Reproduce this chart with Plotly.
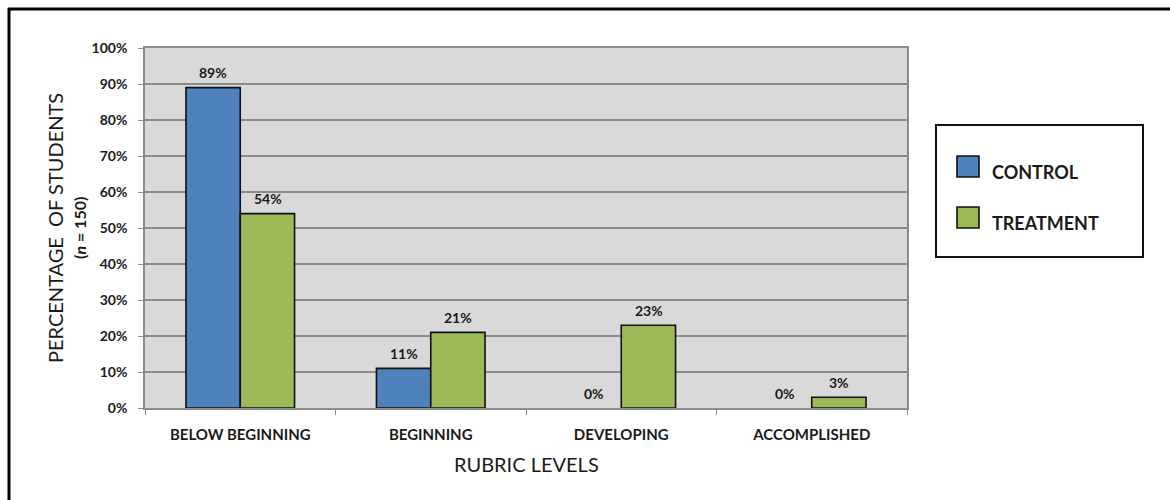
import plotly.graph_objects as go

categories = ["BELOW BEGINNING", "BEGINNING", "DEVELOPING", "ACCOMPLISHED"]
series_names = ["CONTROL", "TREATMENT"]
control = [89, 11, 0, 0]
treatment = [54, 21, 23, 3]
y_ticks = [0, 10, 20, 30, 40, 50, 60, 70, 80, 90, 100]
y_tick_labels = [f"{v}%" for v in y_ticks]

colors = ["#4f81bd", "#9bbb59"]
FONT = "Lato"

# pixel geometry helpers
W, H = 1170, 500
ML, MR, MT, MB = 145, 263, 48, 92
PW, PH = W - ML - MR, H - MT - MB


def px_x(p):
    return (p - ML) / PW


def px_y(p):
    return (H - MB - p) / PH


fig = go.Figure()
for name, vals, col in zip(series_names, [control, treatment], colors):
    fig.add_trace(go.Bar(
        x=categories, y=vals, name=name,
        marker=dict(color=col, line=dict(color="#111111",
                                         width=[1.6 if v > 0 else 0 for v in vals])),
        showlegend=False,
    ))

annotations = []
for k, vals in enumerate([control, treatment]):
    shift = -27.25 if k == 0 else 27.25
    for c, v in zip(categories, vals):
        annotations.append(dict(
            x=c, y=v, xref="x", yref="y", text=f"<b>{v}%</b>", showarrow=False,
            xshift=shift, yshift=15, xanchor="center", yanchor="middle",
            font=dict(family=FONT, size=14, color="#1a1a1a"),
        ))

# axis titles
annotations.append(dict(
    x=px_x(55), y=0.5, xref="paper", yref="paper", textangle=-90,
    text="PERCENTAGE  OF STUDENTS", showarrow=False,
    xanchor="center", yanchor="middle",
    font=dict(family=FONT, size=20, color="#1a1a1a"),
))
annotations.append(dict(
    x=px_x(79), y=0.5, xref="paper", yref="paper", textangle=-90,
    text="<b>(<i>n</i> = 150)</b>", showarrow=False,
    xanchor="center", yanchor="middle",
    font=dict(family=FONT, size=16, color="#1a1a1a"),
))
annotations.append(dict(
    x=0.5, y=px_y(464), xref="paper", yref="paper",
    text="RUBRIC LEVELS", showarrow=False,
    xanchor="center", yanchor="middle",
    font=dict(family=FONT, size=20, color="#1a1a1a"),
))

# legend
shapes = []
shapes.append(dict(type="rect", xref="paper", yref="paper",
                   x0=px_x(936), x1=px_x(1143), y0=px_y(257), y1=px_y(125),
                   line=dict(color="#111111", width=2), fillcolor="white"))
leg_rows = [(156, 177, 172), (207, 228, 223)]
for (t, b, tc), name, col in zip(leg_rows, series_names, colors):
    shapes.append(dict(type="rect", xref="paper", yref="paper",
                       x0=px_x(957), x1=px_x(979), y0=px_y(b), y1=px_y(t),
                       line=dict(color="#111111", width=1.6), fillcolor=col))
    annotations.append(dict(
        x=px_x(990), y=px_y(tc), xref="paper", yref="paper",
        text=f"<b>{name}</b>", showarrow=False, xanchor="left", yanchor="middle",
        font=dict(family=FONT, size=18, color="#1a1a1a"),
    ))

# outer frame (top and left edges visible)
shapes.append(dict(type="line", xref="paper", yref="paper",
                   x0=px_x(8), x1=px_x(1200), y0=px_y(9), y1=px_y(9),
                   line=dict(color="black", width=3)))
shapes.append(dict(type="line", xref="paper", yref="paper",
                   x0=px_x(9), x1=px_x(9), y0=px_y(8), y1=px_y(520),
                   line=dict(color="black", width=3)))

fig.update_layout(
    width=W, height=H,
    margin=dict(l=ML, r=MR, t=MT, b=MB),
    barmode="group", bargap=0.43, bargroupgap=0,
    plot_bgcolor="#d9d9d9", paper_bgcolor="white",
    font=dict(family=FONT, color="#1a1a1a"),
    annotations=annotations, shapes=shapes,
)
fig.update_xaxes(
    showgrid=False, showline=True, linecolor="#8c8c8c", linewidth=1.5,
    mirror=True, ticks="outside", tickson="boundaries", ticklen=5,
    tickcolor="#8c8c8c", ticklabelstandoff=12,
    tickfont=dict(family=FONT, size=15, color="#1a1a1a", weight="bold"),
)
fig.update_yaxes(
    range=[0, 100], tickvals=y_ticks, ticktext=y_tick_labels,
    showgrid=True, gridcolor="#8c8c8c", gridwidth=1.5,
    showline=True, linecolor="#8c8c8c", linewidth=1.5, mirror=True,
    ticks="outside", ticklen=5, tickcolor="#8c8c8c", ticklabelstandoff=8,
    tickfont=dict(family=FONT, size=14, color="#1a1a1a", weight="bold"),
    zeroline=False,
)

fig.write_html("out.html")
